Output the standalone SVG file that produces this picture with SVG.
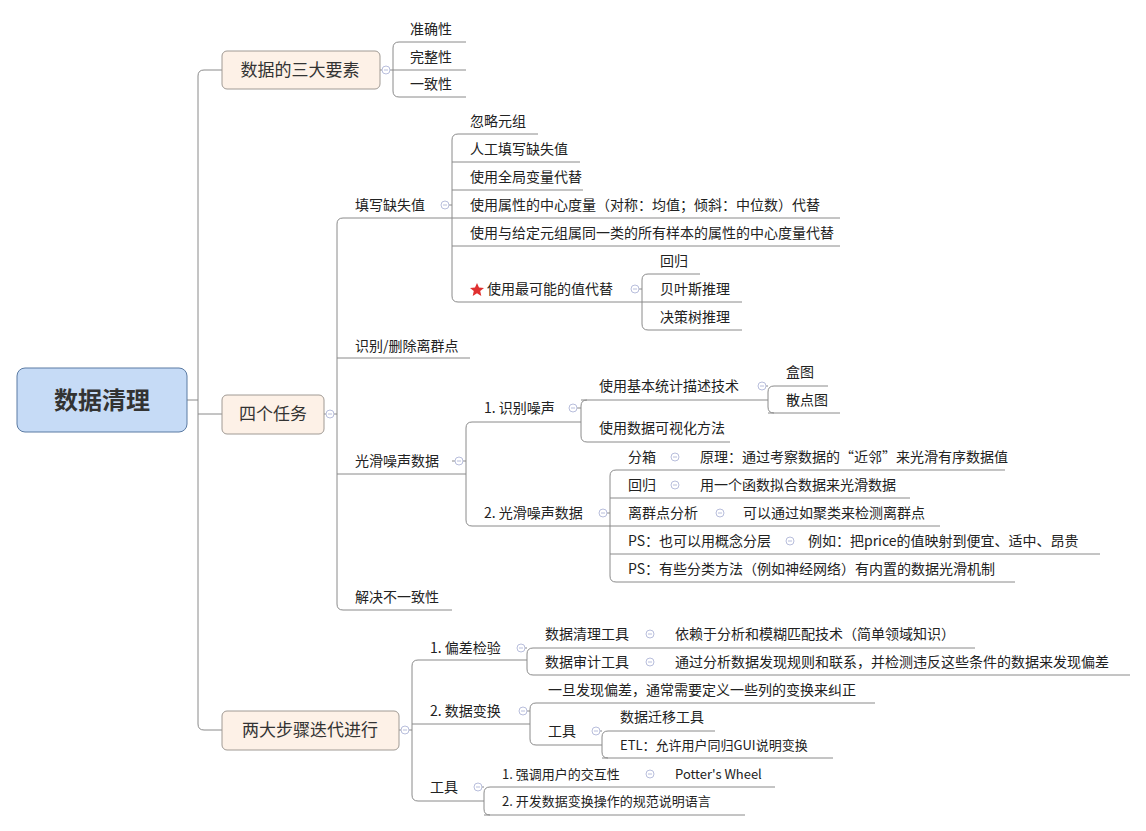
<svg xmlns="http://www.w3.org/2000/svg" width="1146" height="831" viewBox="0 0 1146 831">
<style>
text{font-family:"Noto Sans CJK SC","Liberation Sans",sans-serif;font-size:14px;fill:#222}
.l1{font-size:17px;fill:#333;text-anchor:middle}
.root{font-size:24px;font-weight:bold;fill:#333;text-anchor:middle}
.u{stroke:#8a8a8a;stroke-width:1;fill:none}
.c{stroke:#8a8a8a;stroke-width:1;fill:none}
.b1{fill:#fdf1e7;stroke:#a09a94;stroke-width:1}
.cl{fill:#fff;stroke:#b8bedc;stroke-width:1}
.clm{stroke:#b8bedc;stroke-width:1}
</style>
<defs>
<g id="col"><circle class="cl" r="4"/><line class="clm" x1="-2" y1="0" x2="2" y2="0"/></g>
</defs>
<rect width="1146" height="831" fill="#fff"/>
<g id="connectors">
<path class="c" d="M187,400 H198 M222,70 H204 Q198,70 198,76 V724 Q198,730 204,730 H222 M198,414 H222"/>
<path class="c" d="M380,70 H393 M399,42 Q393,42 393,48 V91 Q393,97 399,97"/>
<path class="c" d="M324,414 H337 M343,218 Q337,218 337,224 V604 Q337,610 343,610"/>
<path class="c" d="M448,205 H452 M458,134 Q452,134 452,140 V296 Q452,302 458,302"/>
<path class="c" d="M638,289 H642 M648,274 Q642,274 642,280 V324 Q642,330 648,330"/>
<path class="c" d="M452,461 H466 M472,422 Q466,422 466,428 V520 Q466,526 472,526"/>
<path class="c" d="M576,408 H581 M587,400 Q581,400 581,406 V436 Q581,442 587,442"/>
<path class="c" d="M765,386 H768 M774,386 Q768,386 768,392 V407 Q768,413 774,413"/>
<path class="c" d="M606,513 H610 M616,470 Q610,470 610,476 V576 Q610,582 616,582"/>
<path class="c" d="M399,730 H412 M418,660 Q412,660 412,666 V795 Q412,801 418,801"/>
<path class="c" d="M524,648 H527 M533,648 Q527,648 527,654 V669 Q527,675 533,675"/>
<path class="c" d="M526,711 H530 M536,703 Q530,703 530,709 V739 Q530,745 536,745"/>
<path class="c" d="M599,731 H602 M608,731 Q602,731 602,737 V752 Q602,758 608,758"/>
<path class="c" d="M481,787 H484 M490,787 Q484,787 484,793 V809 Q484,815 490,815"/>
</g>
<g id="root"><rect x="17" y="368" width="170" height="64" rx="8" fill="#c6dbf6" stroke="#5b7ba3"/><text class="root" x="102" y="409">数据清理</text></g>
<g id="n-yaosu"><rect class="b1" x="222" y="51" width="158" height="38" rx="5"/><text class="l1" x="300" y="76">数据的三大要素</text><use href="#col" x="386" y="70"/></g>
<g id="n-renwu"><rect class="b1" x="222" y="395" width="102" height="39" rx="5"/><text class="l1" x="273" y="420">四个任务</text><use href="#col" x="330" y="414"/></g>
<g id="n-buzhou"><rect class="b1" x="222" y="711" width="177" height="39" rx="5"/><text class="l1" x="310" y="736">两大步骤迭代进行</text><use href="#col" x="405" y="730"/></g>
<g id="n-a1"><text x="410" y="34">准确性</text><line class="u" x1="399" y1="42" x2="466" y2="42"/></g>
<g id="n-a2"><text x="410" y="62">完整性</text><line class="u" x1="393" y1="70" x2="466" y2="70"/></g>
<g id="n-a3"><text x="410" y="89">一致性</text><line class="u" x1="399" y1="97" x2="466" y2="97"/></g>
<g id="n-tx"><text x="355" y="210">填写缺失值</text><line class="u" x1="343" y1="218" x2="452" y2="218"/><use href="#col" x="445" y="205"/></g>
<g id="n-sb"><text x="355" y="351">识别/删除离群点</text><line class="u" x1="337" y1="358" x2="470" y2="358"/></g>
<g id="n-gh"><text x="355" y="466">光滑噪声数据</text><line class="u" x1="337" y1="474" x2="466" y2="474"/><use href="#col" x="459" y="461"/></g>
<g id="n-jj"><text x="355" y="602">解决不一致性</text><line class="u" x1="343" y1="610" x2="452" y2="610"/></g>
<g id="n-t1"><text x="470" y="126">忽略元组</text><line class="u" x1="458" y1="134" x2="538" y2="134"/></g>
<g id="n-t2"><text x="470" y="154">人工填写缺失值</text><line class="u" x1="452" y1="162" x2="580" y2="162"/></g>
<g id="n-t3"><text x="470" y="182">使用全局变量代替</text><line class="u" x1="452" y1="190" x2="583" y2="190"/></g>
<g id="n-t4"><text x="470" y="210">使用属性的中心度量（对称：均值；倾斜：中位数）代替</text><line class="u" x1="452" y1="218" x2="840" y2="218"/></g>
<g id="n-t5"><text x="470" y="238">使用与给定元组属同一类的所有样本的属性的中心度量代替</text><line class="u" x1="452" y1="246" x2="840" y2="246"/></g>
<g id="n-t6"><polygon points="477,283 479,287.5 484,288 480.2,291 481.3,296 477,293.3 472.7,296 473.8,291 470,288 475,287.5" fill="#e03030"/><text x="487" y="294">使用最可能的值代替</text><line class="u" x1="458" y1="302" x2="642" y2="302"/><use href="#col" x="635" y="289"/></g>
<g id="n-t61"><text x="660" y="266">回归</text><line class="u" x1="648" y1="274" x2="700" y2="274"/></g>
<g id="n-t62"><text x="660" y="294">贝叶斯推理</text><line class="u" x1="642" y1="302" x2="742" y2="302"/></g>
<g id="n-t63"><text x="660" y="322">决策树推理</text><line class="u" x1="648" y1="330" x2="742" y2="330"/></g>
<g id="n-g1"><text x="484" y="413">1. 识别噪声</text><line class="u" x1="472" y1="422" x2="581" y2="422"/><use href="#col" x="573" y="408"/></g>
<g id="n-g11"><text x="599" y="391">使用基本统计描述技术</text><line class="u" x1="581" y1="400" x2="768" y2="400"/><use href="#col" x="762" y="386"/></g>
<g id="n-g12"><text x="599" y="433">使用数据可视化方法</text><line class="u" x1="587" y1="442" x2="730" y2="442"/></g>
<g id="n-g111"><text x="786" y="377">盒图</text><line class="u" x1="774" y1="386" x2="828" y2="386"/></g>
<g id="n-g112"><text x="786" y="405">散点图</text><line class="u" x1="768" y1="413" x2="840" y2="413"/></g>
<g id="n-g2"><text x="484" y="518">2. 光滑噪声数据</text><line class="u" x1="472" y1="526" x2="610" y2="526"/><use href="#col" x="603" y="513"/></g>
<g id="n-g21"><text x="628" y="462">分箱</text><use href="#col" x="675" y="457"/><text x="700" y="462">原理：通过考察数据的“近邻”来光滑有序数据值</text><line class="u" x1="616" y1="470" x2="1005" y2="470"/></g>
<g id="n-g22"><text x="628" y="490">回归</text><use href="#col" x="675" y="485"/><text x="700" y="490">用一个函数拟合数据来光滑数据</text><line class="u" x1="610" y1="498" x2="910" y2="498"/></g>
<g id="n-g23"><text x="628" y="518">离群点分析</text><use href="#col" x="720" y="513"/><text x="743" y="518">可以通过如聚类来检测离群点</text><line class="u" x1="610" y1="526" x2="940" y2="526"/></g>
<g id="n-g24"><text x="628" y="546">PS：也可以用概念分层</text><use href="#col" x="790" y="541"/><text x="808" y="546">例如：把price的值映射到便宜、适中、昂贵</text><line class="u" x1="610" y1="554" x2="1100" y2="554"/></g>
<g id="n-g25"><text x="628" y="574">PS：有些分类方法（例如神经网络）有内置的数据光滑机制</text><line class="u" x1="616" y1="582" x2="1015" y2="582"/></g>
<g id="n-b1"><text x="430" y="653">1. 偏差检验</text><line class="u" x1="418" y1="660" x2="527" y2="660"/><use href="#col" x="521" y="648"/></g>
<g id="n-b11"><text x="545" y="639">数据清理工具</text><use href="#col" x="650" y="634"/><text x="675" y="639">依赖于分析和模糊匹配技术（简单领域知识）</text><line class="u" x1="533" y1="648" x2="975" y2="648"/></g>
<g id="n-b12"><text x="545" y="667">数据审计工具</text><use href="#col" x="650" y="662"/><text x="675" y="667">通过分析数据发现规则和联系，并检测违反这些条件的数据来发现偏差</text><line class="u" x1="533" y1="675" x2="1130" y2="675"/></g>
<g id="n-b2"><text x="430" y="716">2.  数据变换</text><line class="u" x1="412" y1="724" x2="530" y2="724"/><use href="#col" x="523" y="711"/></g>
<g id="n-b21"><text x="548" y="695">一旦发现偏差，通常需要定义一些列的变换来纠正</text><line class="u" x1="536" y1="703" x2="875" y2="703"/></g>
<g id="n-b22"><text x="548" y="736">工具</text><line class="u" x1="536" y1="745" x2="602" y2="745"/><use href="#col" x="596" y="731"/></g>
<g id="n-b221"><text x="620" y="722">数据迁移工具</text><line class="u" x1="608" y1="731" x2="715" y2="731"/></g>
<g id="n-b222"><text x="620" y="750" style="font-size:13px">ETL：允许用户同归GUI说明变换</text><line class="u" x1="602" y1="758" x2="833" y2="758"/></g>
<g id="n-b3"><text x="430" y="792">工具</text><line class="u" x1="418" y1="801" x2="484" y2="801"/><use href="#col" x="478" y="787"/></g>
<g id="n-b31"><text x="502" y="779" style="font-size:13px">1. 强调用户的交互性</text><use href="#col" x="650" y="774"/><text x="675" y="779" style="font-size:13px">Potter's Wheel</text><line class="u" x1="490" y1="787" x2="775" y2="787"/></g>
<g id="n-b32"><text x="502" y="806" style="font-size:13px">2.  开发数据变换操作的规范说明语言</text><line class="u" x1="484" y1="815" x2="745" y2="815"/></g>
</svg>
